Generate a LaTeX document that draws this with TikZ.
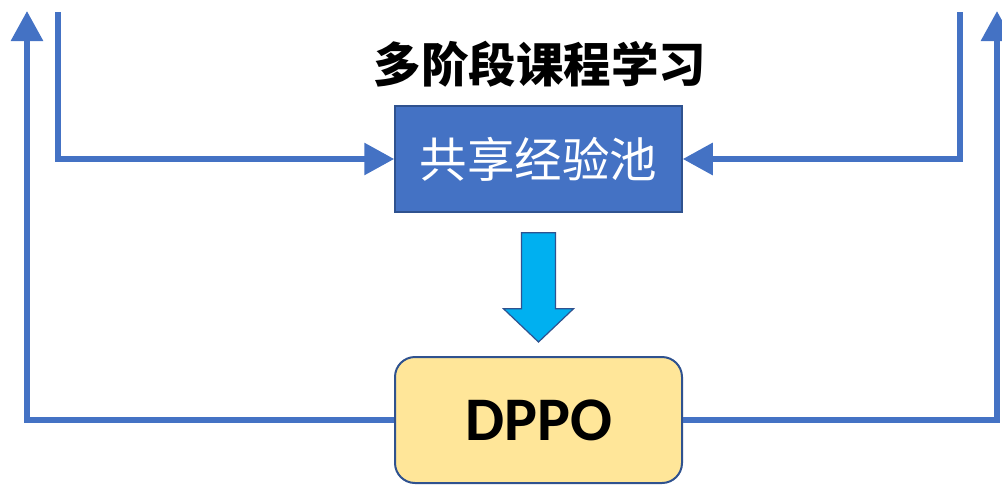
\documentclass[tikz,border=0pt]{standalone}
\usepackage{fontspec}
\newfontfamily\cjk{Noto Sans CJK SC}
\newfontfamily\cali{Carlito}
\usetikzlibrary{arrows.meta}
\definecolor{lineblue}{HTML}{4472C4}
\definecolor{edgeblue}{HTML}{2F528F}
\definecolor{arrowcyan}{HTML}{00B0F0}
\definecolor{dppoyellow}{HTML}{FFE699}

\begin{document}
\begin{tikzpicture}[x=1pt,y=-1pt,
  flow/.style={draw=lineblue,line width=6pt,-{Triangle[length=30pt,width=31pt]}}]
  \useasboundingbox (0,0) rectangle (1002,485);
  \node[font=\cjk\bfseries\fontsize{47.5}{52}\selectfont] (title) at (540,64) {多阶段课程学习};
  \node[draw=edgeblue,line width=1.5pt,fill=lineblue,text=white,minimum width=287pt,minimum height=106pt,
        font=\cjk\fontsize{47.5}{52}\selectfont] (pool) at (538.5,159) {共享经验池};
  \node[draw=edgeblue,line width=2pt,fill=dppoyellow,rounded corners=20pt,minimum width=287pt,minimum height=126pt,
        font=\cali\bfseries\fontsize{62}{66}\selectfont] (dppo) at (538.5,420) {DPPO};
  % outer loops back to the top
  \coordinate (lefttop) at (27,11);
  \coordinate (righttop) at (997,11);
  \draw[flow] (dppo.west) -- (lefttop |- dppo.west) -- (lefttop);
  \draw[flow] (dppo.east) -- (righttop |- dppo.east) -- (righttop);
  % inner lines into the pool
  \coordinate (leftin) at (58,12);
  \coordinate (rightin) at (960,12);
  \draw[flow] (leftin) -- (leftin |- pool.west) -- (pool.west);
  \draw[flow] (rightin) -- (rightin |- pool.east) -- (pool.east);
  % pool feeds dppo
  \draw[edgeblue,fill=arrowcyan,line width=1.2pt,line join=miter]
    ([xshift=-17pt,yshift=-20pt]pool.south) -- ([xshift=17pt,yshift=-20pt]pool.south)
    -- ([xshift=17pt,yshift=-96pt]pool.south) -- ([xshift=35pt,yshift=-96pt]pool.south)
    -- ([yshift=14pt]dppo.north) -- ([xshift=-35pt,yshift=-96pt]pool.south)
    -- ([xshift=-17pt,yshift=-96pt]pool.south) -- cycle;
\end{tikzpicture}
\end{document}
